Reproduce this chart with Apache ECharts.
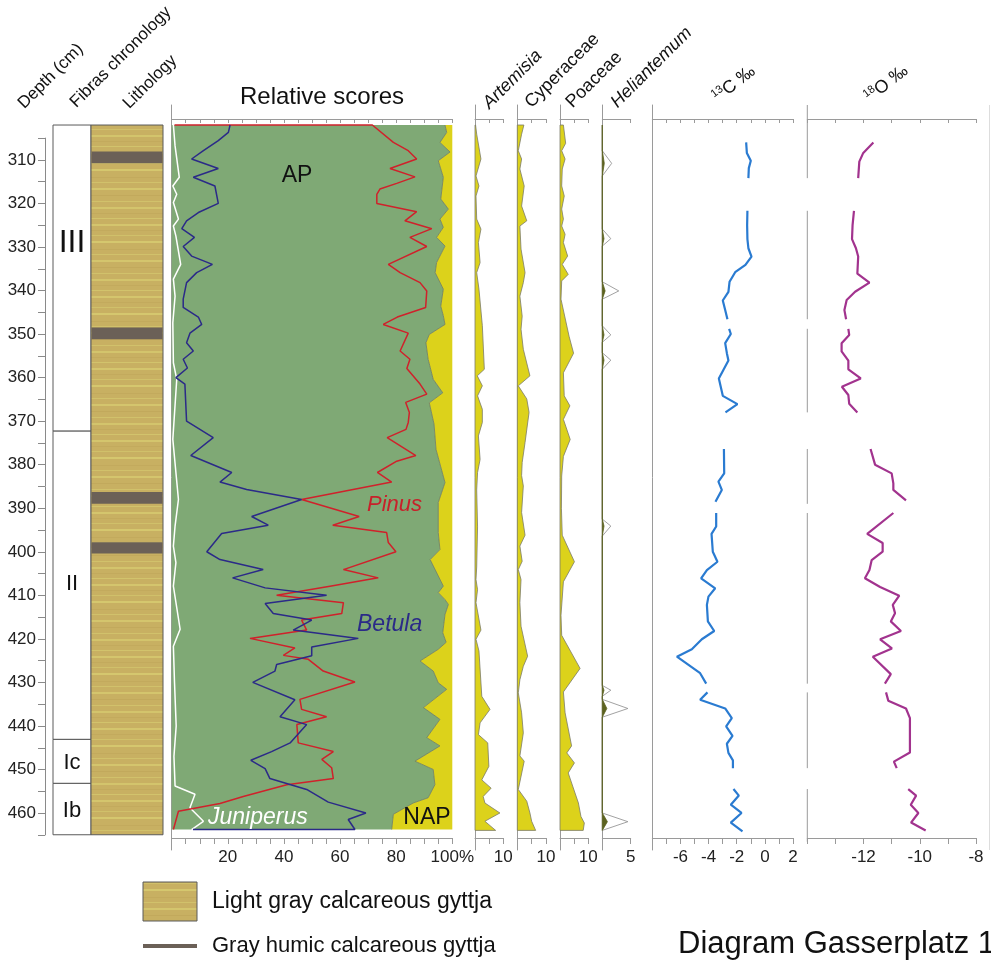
<!DOCTYPE html>
<html><head><meta charset="utf-8">
<script src="https://cdn.jsdelivr.net/npm/echarts@6/dist/echarts.min.js"></script>
<style>html,body{margin:0;padding:0;background:#fff}#c{width:991px;height:964px}</style>
</head><body><div id="c"></div>
<script>
// ---------------- DATA (depth in cm) ----------------
const zoneNames = ['III', 'II', 'Ic', 'Ib'];
const zoneTops = [302, 372.3, 443.1, 453.2];
const zoneBottoms = [372.3, 443.1, 453.2, 465];
const zoneLabelDepth = [329.1, 407.3, 448.6, 459.6];

const lithTop = 302, lithBottom = 465;
const humicTops = [308.1, 348.5, 386.3, 397.8];
const humicBottoms = [310.8, 351.2, 389.0, 400.4];

const pinusDepth = [302,302,306.0,307.9,309.8,312.0,313.9,315.4,316.7,317.9,320.0,321.9,324.0,325.8,327.8,329.9,334.0,335.9,338.2,340.1,343.9,346.1,347.8,349.8,353.9,355.8,357.9,361.5,363.8,365.7,368.0,370.3,371.9,373.8,377.9,379.2,381.8,384.0,388.0,391.9,393.9,395.6,397.9,400.0,404.1,406.0,407.9,410.0,411.7,414.2,415.7,418.0,419.9,422.1,423.8,424.7,427.4,429.9,433.9,436.2,437.9,439.7,443.9,445.9,447.7,449.6,452.1,453.5,456.2,457.8,459.6,463.8];
const pinus = [1,71.5,79.0,84.3,87.3,77.8,86.7,80.2,74.2,73.1,73.1,87.3,83.1,92.7,84.9,90.9,77.2,81.4,88.5,90.9,90.5,80.4,75.4,84.3,81.4,84.9,83.8,88.5,90.9,83.4,84.7,84.3,83.5,76.8,87.0,80.2,73.3,78.4,46.3,66.8,57.4,76.6,77.2,79.9,61.2,73.6,56.4,37.4,61.2,60.6,46.3,48.1,27.9,43.9,39.8,48.7,54.0,65.3,45.7,46.3,55.2,44.6,45.1,57.6,53.5,57.0,57.6,41.0,25.5,17.2,2.4,0.6];

const betulaDepth = [302,303.7,305.6,307.9,309.8,312.0,314.0,316.0,320.0,322.1,324.0,325.8,327.8,329.9,332.1,334.0,335.9,338.2,342.0,343.9,346.1,347.8,349.8,352.0,353.9,355.8,357.8,360.0,361.5,370.0,373.8,377.9,381.8,384.0,385.7,388.0,391.9,393.9,395.8,400.0,401.8,404.1,406.0,408.3,410.0,411.9,414.2,415.7,418.0,419.9,421.9,423.9,425.9,427.4,430.0,434.0,437.9,439.7,443.9,445.9,447.9,449.8,452.1,454.6,457.5,460.0,461.5,463.8,463.8];
const betula = [20.8,20.2,16.6,11.3,7.1,16.6,7.7,15.4,16.6,9.5,5.3,3.6,8.1,4.1,7.1,14.5,8.9,5.3,4.1,4.1,9.5,10.7,6.5,5.3,7.7,4.1,5.6,1.5,4.7,5.3,14.8,6.8,21.4,17.2,26.7,46.3,28.5,34.4,17.8,12.5,17.2,32.6,21.7,33.3,55.2,33.3,36.2,49.9,43.3,66.5,49.9,49.9,37.4,36.8,28.9,43.9,38.6,48.1,42.2,35.6,28.2,33.3,35.0,48.1,55.8,69.2,62.9,65.3,7.6];

const juniperusDepth = [302,306.8,314.0,316.0,317.9,319.8,323.6,325.2,327.5,334.0,337.4,341.3,347.4,356.6,360.4,374.2,388.0,394.1,398.7,402.5,407.9,417.8,421.7,430.0,440.0,447.0,453.8,455.7,458.8,461.9,463.8];
const juniperus = [0.6,1.2,2.7,0.4,1.8,0.6,2.4,0.6,1.5,3.2,0.6,1.2,0.4,0.6,1.8,0.4,2.4,1.2,0.6,1.5,0.6,3.0,0.6,1.0,1.6,0.8,1.2,8.3,6.5,11.3,7.1];

const apDepth = [302,303.7,306.0,308.2,310.2,314.0,319.0,321.3,323.6,325.5,327.8,329.8,333.6,335.9,339.7,343.6,345.8,347.8,350.1,352.0,355.8,360.4,363.5,365.8,370.7,376.5,384.1,388.7,395.6,399.5,401.8,407.9,409.4,411.0,412.1,414.4,418.6,420.8,422.4,425.1,427.4,430.1,431.6,435.8,438.5,442.7,444.6,448.1,450.0,453.5,456.5,457.7,460.3,463.8];
const ap = [97.4,98.0,95.6,99.2,95.0,96.8,95.9,98.6,95.6,96.8,94.4,97.4,94.4,93.9,96.8,95.9,96.8,97.4,91.8,90.6,91.4,93.2,96.6,91.8,93.5,94.2,97.4,95.0,95.0,95.6,92.1,96.8,95.0,97.4,98.6,97.4,96.6,97.8,95.0,88.5,93.2,95.0,98.0,89.7,95.6,90.9,95.6,86.7,93.2,93.8,91.4,86.1,79.0,78.4];

const artemisiaDepth = [302,304.1,309.8,313.7,316.0,318.3,323.6,325.9,329.0,333.6,335.9,339.7,348.1,358.1,359.6,361.9,364.2,367.3,370.3,373.4,378.8,381.8,385.8,394.3,403.5,406.4,408.7,411.7,418.0,420.1,422.8,433.2,436.2,439.3,442.0,443.9,449.3,452.4,454.3,456.2,457.7,460.0,461.9,464.0];
const artemisia = [0.2,0.6,2.1,0.35,1.4,0.35,0.6,2.1,1.2,1.8,0.6,1.4,2.6,3.3,0.8,2.6,0.9,2.6,2.6,1.2,1.8,0.9,0.6,0.9,0.6,0.35,0.9,0.35,2.1,0.35,1.4,2.4,5.3,1.8,1.2,4.5,4.9,2.4,5.7,2.9,3.5,8.8,3.5,7.3];

const cyperaceaeDepth = [302,304.1,307.9,309.8,312.1,316.0,320.6,324.0,325.2,330.5,335.9,338.2,341.3,345.9,348.9,353.5,359.6,361.9,364.9,368.0,374.9,379.5,382.5,384.9,391.0,396.2,398.7,402.2,404.1,406.4,411.7,417.1,424.0,426.3,429.4,432.4,437.0,441.6,446.9,448.1,454.6,457.3,460.0,461.9,464.0];
const cyperaceae = [2.3,1.5,0.35,1.5,0.9,2.4,1.5,3.3,0.9,1.3,2.7,2.1,0.9,1.7,1.3,2.1,4.4,0.35,3.3,4.1,2.7,1.7,1.5,2.1,1.5,2.7,0.9,1.7,0.35,1.3,0.9,1.3,3.6,2.1,0.9,0.35,1.5,2.1,0.9,2.4,0.35,3.3,4.4,5.0,6.4];

const poaceaeDepth = [302,306.2,307.9,309.8,312.1,316.0,318.3,321.3,323.6,325.2,327.1,329.0,332.1,334.0,336.3,337.8,342.0,350.5,354.4,358.9,364.2,366.5,369.6,374.2,378.1,382.6,390.0,396.2,402.3,406.9,414.6,419.2,426.8,432.2,437.0,444.6,446.2,448.5,450.8,457.7,460.8,462.3,464.0];
const poaceae = [1.2,2.0,0.6,1.8,0.8,0.6,1.5,0.6,1.2,0.6,1.8,1.2,2.7,0.8,2.9,0.6,0.35,3.2,4.8,1.2,1.5,3.5,1.2,3.6,1.2,0.6,0.5,0.8,5.1,1.2,0.35,0.6,7.1,1.2,1.8,4.1,2.4,5.1,2.9,6.5,7.4,8.6,8.2];

const heliDepth = [302,307.9,310.8,313.7,325.9,328.1,329.8,338.0,340.1,342.0,348.1,350.2,351.9,354.3,356.0,358.1,392.5,394.1,396.4,430.7,431.8,433.2,433.9,436.0,438.0,460.0,462.0,464.0];
const heliExaggerated = [0,0,1.65,0,0,1.5,0,0,2.9,0,0,1.5,0,0,1.5,0,0,1.5,0,0,1.5,0,0,4.5,0,0,4.5,0];
const heli = [0,0,0.35,0,0,0.3,0,0,0.5,0,0,0.3,0,0,0.3,0,0,0.3,0,0,0.3,0,0,0.8,0,0,0.9,0];

const d13CDepth = [306.0,308.4,310.2,311.9,314.2,null,321.7,325.0,328.2,330.3,332.2,334.1,335.8,338.0,340.3,342.3,344.5,346.6,null,348.8,350.0,352.1,354.4,356.1,358.2,360.2,364.2,366.1,368.0,null,376.4,382.0,383.9,385.8,388.5,null,391.1,394.2,395.9,400.0,402.3,404.2,406.1,408.4,410.3,412.2,416.0,418.2,420.1,422.4,424.1,427.9,430.3,null,432.3,434.0,436.0,438.2,440.1,442.3,444.1,446.2,447.9,449.7,null,454.5,456.0,458.1,460.0,462.2,464.2];
const d13C = [-1.33,-1.28,-1.0,-1.14,-1.17,null,-1.24,-1.26,-1.24,-1.17,-0.95,-1.38,-2.11,-2.51,-2.59,-2.99,-2.82,-2.66,null,-2.54,-2.42,-2.82,-2.70,-2.59,-2.94,-3.27,-2.99,-1.95,-2.80,null,-2.91,-2.89,-3.30,-3.06,-3.51,null,-3.46,-3.46,-3.79,-3.70,-3.37,-4.12,-4.53,-3.53,-4.01,-4.12,-4.05,-3.60,-4.48,-5.19,-6.25,-4.60,-4.17,null,-4.08,-4.60,-2.82,-2.35,-2.75,-2.30,-2.70,-2.59,-2.27,-2.27,null,-2.23,-1.85,-2.42,-1.66,-2.42,-1.59];

const d18ODepth = [306.0,308.4,310.4,314.2,null,321.7,325.0,328.2,330.3,332.2,336.1,338.2,340.3,342.2,344.5,346.6,null,348.8,350.2,352.1,354.0,356.1,358.1,360.2,362.1,364.0,366.0,368.0,null,376.4,380.0,382.0,384.3,385.8,388.2,null,391.1,395.9,398.0,400.0,401.9,404.2,406.1,408.1,410.1,412.2,414.1,416.0,418.2,420.1,422.2,424.1,428.1,430.3,null,432.3,434.2,436.0,438.2,446.1,448.2,449.7,null,454.5,456.0,458.1,460.0,462.2,464.0];
const d18O = [-11.65,-12.01,-12.15,-12.19,null,-12.34,-12.39,-12.41,-12.27,-12.19,-12.22,-11.79,-12.30,-12.60,-12.68,-12.62,null,-12.54,-12.51,-12.78,-12.78,-12.54,-12.54,-12.10,-12.77,-12.54,-12.51,-12.22,null,-11.75,-11.59,-11.0,-10.94,-10.94,-10.49,null,-10.94,-11.87,-11.32,-11.32,-11.71,-11.79,-11.95,-11.41,-10.73,-10.96,-10.88,-11.03,-10.67,-11.41,-10.99,-11.67,-11.03,-11.24,null,-11.20,-11.12,-10.49,-10.35,-10.35,-10.92,-10.82,null,-10.41,-10.13,-10.32,-10.05,-10.31,-9.79];
// sampled intervals of the d18O record (axis line drawn only there)
const d18OSpans = [[297.4,314.2],[321.7,346.6],[348.8,368.0],[376.4,389.0],[391.1,430.3],[432.3,449.7],[454.5,466.6]];

// ---------------- LAYOUT / STYLE ----------------
const FONT = "'Liberation Sans', Arial, sans-serif";
const AX = '#9a9a9a';
const PANEL_TOP = 105, PANEL_H = 745, DMIN = 297.4, DMAX = 468.5;
const grids = [], xAxis = [], yAxis = [], series = [], graphic = [];

function makePattern() {
  const c = document.createElement('canvas'); c.width = 8; c.height = 72;
  const g = c.getContext('2d');
  g.fillStyle = '#c8b062'; g.fillRect(0, 0, 8, 72);
  const st = [[2,1,'#d2c36c'],[8,2,'#d4c56d'],[14,1,'#c3aa5d'],[19,1,'#d0c06a'],[25,2,'#d5c76e'],[33,1,'#c3aa5d'],[38,1,'#d1c16b'],[44,2,'#d4c56d'],[51,1,'#c2a95c'],[57,1,'#d1c16b'],[63,2,'#d3c46c'],[69,1,'#c3aa5d']];
  st.forEach(s => { g.fillStyle = s[2]; g.fillRect(0, s[0], 8, s[1]); });
  return {image: c, repeat: 'repeat'};
}
const lithPattern = makePattern();

function addGrid(left, width, top, height) {
  grids.push({left, width, top, height, containLabel: false, outerBoundsMode: 'none'});
  return grids.length - 1;
}
function hiddenPanel(left, width) {
  const g = addGrid(left, width, PANEL_TOP, PANEL_H);
  xAxis.push({gridIndex: g, type: 'value', show: false, min: 0, max: 1});
  yAxis.push({gridIndex: g, type: 'value', show: false, inverse: true, min: DMIN, max: DMAX});
  return {x: xAxis.length - 1, y: yAxis.length - 1};
}
function panel(left, width, xmin, xmax, xint, fmt, yLine) {
  const g = addGrid(left, width, PANEL_TOP, PANEL_H);
  const common = {gridIndex: g, type: 'value', min: xmin, max: xmax, interval: xint, splitLine: {show: false}};
  xAxis.push(Object.assign({}, common, {position: 'top', offset: -14,
    axisLine: {show: true, onZero: false, lineStyle: {color: AX, width: 1}},
    axisTick: {show: true, inside: true, length: 4, lineStyle: {color: AX}},
    axisLabel: {show: false}}));
  xAxis.push(Object.assign({}, common, {position: 'bottom', offset: -12,
    axisLine: {show: true, onZero: false, lineStyle: {color: AX, width: 1}},
    axisTick: {show: true, inside: false, length: 6, lineStyle: {color: AX}},
    axisLabel: {show: true, formatter: fmt, fontSize: 17, fontFamily: FONT, color: '#222', margin: 11, showMinLabel: true, showMaxLabel: true}}));
  yAxis.push({gridIndex: g, type: 'value', inverse: true, min: DMIN, max: DMAX, position: 'left',
    axisLine: {show: yLine, onZero: false, lineStyle: {color: AX, width: 1}},
    axisTick: {show: false}, axisLabel: {show: false}, splitLine: {show: false}});
  return {x: xAxis.length - 1, y: yAxis.length - 1};
}
function pairs(vals, depths) {
  return vals.map((v, i) => (v == null || depths[i] == null) ? ['-', '-'] : [v, depths[i]]);
}
function polygonSeries(ax, pts, style, z) {
  series.push({type: 'custom', coordinateSystem: 'cartesian2d', xAxisIndex: ax.x, yAxisIndex: ax.y,
    silent: true, clip: false, z: z, data: [[0, 380]],
    renderItem: (p, api) => ({type: 'polygon', shape: {points: pts.map(q => api.coord(q))}, style: style})});
}
function lineSeries(ax, data, color, width, z) {
  series.push({type: 'line', xAxisIndex: ax.x, yAxisIndex: ax.y, data: data, symbol: 'none', showSymbol: false,
    connectNulls: false, clip: false, silent: true, z: z, lineStyle: {color: color, width: width}, itemStyle: {color: color}});
}
function silhouette(ax, vals, depths, fill, stroke) {
  const pts = [[0, depths[0]]].concat(pairs(vals, depths), [[0, depths[depths.length - 1]]]);
  polygonSeries(ax, pts, {fill: fill, stroke: stroke, lineWidth: 0.8}, 2);
}

// Depth axis
const gD = addGrid(45, 8, 138.1, 696.8);
xAxis.push({gridIndex: gD, type: 'value', show: false, min: 0, max: 1});
yAxis.push({gridIndex: gD, type: 'value', inverse: true, min: 305, max: 465, interval: 5, position: 'left',
  axisLine: {show: true, onZero: false, lineStyle: {color: '#8a8a8a'}},
  axisTick: {show: true, length: 7, lineStyle: {color: '#8a8a8a'}},
  axisLabel: {formatter: v => (v % 10 === 0 ? String(v) : ''), fontSize: 17, fontFamily: FONT, color: '#222', margin: 9, showMinLabel: true, showMaxLabel: true},
  splitLine: {show: false}});

// Chronology
const axC = hiddenPanel(53, 38);
series.push({type: 'custom', coordinateSystem: 'cartesian2d', xAxisIndex: axC.x, yAxisIndex: axC.y, silent: true, clip: false, z: 2,
  data: zoneNames.map((n, i) => [0.5, zoneLabelDepth[i]]),
  renderItem: (p, api) => {
    const i = p.dataIndex;
    const a = api.coord([0, zoneTops[i]]), b = api.coord([1, zoneBottoms[i]]), c = api.coord([0.5, zoneLabelDepth[i]]);
    const big = zoneNames[i] === 'III';
    return {type: 'group', children: [
      {type: 'rect', shape: {x: a[0], y: a[1], width: b[0] - a[0], height: b[1] - a[1]}, style: {fill: '#fff', stroke: '#5a5a5a', lineWidth: 1}},
      {type: 'text', x: c[0], y: c[1], style: {text: zoneNames[i], fill: '#111', fontSize: big ? 32 : 22,
        fontFamily: big ? "'Liberation Sans Narrow', 'Liberation Sans', sans-serif" : FONT,
        align: 'center', verticalAlign: 'middle', textAlign: 'center', textVerticalAlign: 'middle'}}]};
  }});

// Lithology
const axL = hiddenPanel(91, 72);
series.push({type: 'custom', coordinateSystem: 'cartesian2d', xAxisIndex: axL.x, yAxisIndex: axL.y, silent: true, clip: false, z: 2,
  data: [[0.5, lithTop]],
  renderItem: (p, api) => {
    const a = api.coord([0, lithTop]), b = api.coord([1, lithBottom]);
    const kids = [{type: 'rect', shape: {x: a[0], y: a[1], width: b[0] - a[0], height: b[1] - a[1]}, style: {fill: lithPattern, stroke: '#5a5a5a', lineWidth: 1}}];
    humicTops.forEach((t, i) => {
      const c = api.coord([0, t]), d = api.coord([1, humicBottoms[i]]);
      kids.push({type: 'rect', shape: {x: c[0] + 0.5, y: c[1], width: d[0] - c[0] - 1, height: d[1] - c[1]}, style: {fill: '#6b6057'}});
    });
    return {type: 'group', children: kids};
  }});

// Relative scores
const axR = panel(171.7, 280.6, 0, 100, 5, v => (v > 0 && v % 20 === 0) ? (v === 100 ? '100%' : String(v)) : '', true);
polygonSeries(axR, [[100, apDepth[0]]].concat(pairs(ap, apDepth), [[100, apDepth[apDepth.length - 1]]]), {fill: '#dcd21b'}, 1);
polygonSeries(axR, [[0, apDepth[0]]].concat(pairs(ap, apDepth), [[0, apDepth[apDepth.length - 1]]]), {fill: '#7fa975'}, 1);
lineSeries(axR, pairs(ap, apDepth), '#6f7c58', 0.8, 3);
lineSeries(axR, pairs(juniperus, juniperusDepth), '#ffffff', 1.5, 4);
lineSeries(axR, pairs(pinus, pinusDepth), '#d0212b', 1.5, 5);
lineSeries(axR, pairs(betula, betulaDepth), '#2b2a88', 1.5, 6);

// Herb taxa
const fmt10 = v => (v === 10 ? '10' : '');
const axA = panel(475, 28.3, 0, 10, 5, fmt10, true);
silhouette(axA, artemisia, artemisiaDepth, '#dcd21b', '#7b7b6b');
const axCy = panel(517.3, 28.7, 0, 10, 5, fmt10, true);
silhouette(axCy, cyperaceae, cyperaceaeDepth, '#dcd21b', '#7b7b6b');
const axP = panel(560, 28.3, 0, 10, 5, fmt10, true);
silhouette(axP, poaceae, poaceaeDepth, '#dcd21b', '#7b7b6b');
const axH = panel(602.3, 28.4, 0, 5, 5, v => (v === 5 ? '5' : ''), true);
silhouette(axH, heliExaggerated, heliDepth, '#ffffff', '#8a8a8a');
silhouette(axH, heli, heliDepth, '#5c6220', '#5c6220');

// Isotopes
const axI = panel(652.3, 140.7, -8, 2, 1, v => (v > -8 && v % 2 === 0) ? String(v) : '', true);
lineSeries(axI, pairs(d13C, d13CDepth), '#2a7bd1', 2.2, 5);
const axO = panel(807.3, 168.7, -14, -8, 1, v => (v > -14 && v % 2 === 0) ? String(v) : '', false);
const spanData = [];
d18OSpans.forEach((s, i) => { if (i) spanData.push(['-', '-']); spanData.push([-14, s[0]], [-14, s[1]]); });
lineSeries(axO, spanData, AX, 1, 2);
lineSeries(axO, pairs(d18O, d18ODepth), '#a2338e', 2.2, 5);

// ---------------- TEXT ----------------
function txt(x, y, text, o) {
  o = o || {};
  const st = {text: text, fontSize: o.fs || 18, fontFamily: o.ff || FONT, fontStyle: o.it ? 'italic' : 'normal',
    fill: o.color || '#111', align: o.align || 'left', verticalAlign: o.va || 'middle',
    textAlign: o.align || 'left', textVerticalAlign: o.va || 'middle'};
  if (o.rich) st.rich = o.rich;
  graphic.push({type: 'text', x: x, y: y, rotation: o.rot || 0, silent: true, z: 100, style: st});
}
const R45 = Math.PI / 4;
const R38 = 38 * Math.PI / 180;
txt(21, 106, 'Depth (cm)', {rot: R45, fs: 17});
txt(73, 105, 'Fibras chronology', {rot: R45, fs: 17});
txt(126, 106, 'Lithology', {rot: R45, fs: 17});
txt(486, 106, 'Artemisia', {rot: R45, fs: 18, it: true});
txt(528, 105, 'Cyperaceae', {rot: R45, fs: 18});
txt(569, 105, 'Poaceae', {rot: R45, fs: 18});
txt(614, 105, 'Heliantemum', {rot: R45, fs: 18, it: true});
const supRich = {s: {fontSize: 11, fontFamily: FONT, fill: '#111', color: '#111', padding: [0, 0, 9, 0]}};
txt(715, 99, '{s|13}C ‰', {rot: R38, fs: 18, rich: supRich});
txt(867, 99, '{s|18}O ‰', {rot: R38, fs: 18, rich: supRich});
txt(322, 97, 'Relative scores', {fs: 24, align: 'center'});
txt(297, 176, 'AP', {fs: 23, align: 'center'});
txt(367, 505, 'Pinus', {fs: 22, it: true, color: '#c8202a'});
txt(357, 625, 'Betula', {fs: 23, it: true, color: '#2b2a88'});
txt(208, 818, 'Juniperus', {fs: 23, it: true, color: '#ffffff'});
txt(427, 818, 'NAP', {fs: 23, align: 'center'});

// legend
graphic.push({type: 'rect', shape: {x: 143, y: 882, width: 54, height: 39}, silent: true, style: {fill: lithPattern, stroke: '#5a5a5a', lineWidth: 1}});
txt(212, 902, 'Light gray calcareous gyttja', {fs: 23});
graphic.push({type: 'line', shape: {x1: 143, y1: 946, x2: 197, y2: 946}, silent: true, style: {stroke: '#6b6057', lineWidth: 4}});
txt(212, 946, 'Gray humic calcareous gyttja', {fs: 22});
txt(678, 944, 'Diagram Gasserplatz 1', {fs: 31});
graphic.push({type: 'line', shape: {x1: 989.5, y1: 105, x2: 989.5, y2: 850}, silent: true, style: {stroke: '#dddddd', lineWidth: 1}});

const chart = echarts.init(document.getElementById('c'), null, {renderer: 'canvas'});
chart.setOption({animation: false, backgroundColor: '#ffffff', grid: grids, xAxis: xAxis, yAxis: yAxis, series: series, graphic: graphic});
</script></body></html>
